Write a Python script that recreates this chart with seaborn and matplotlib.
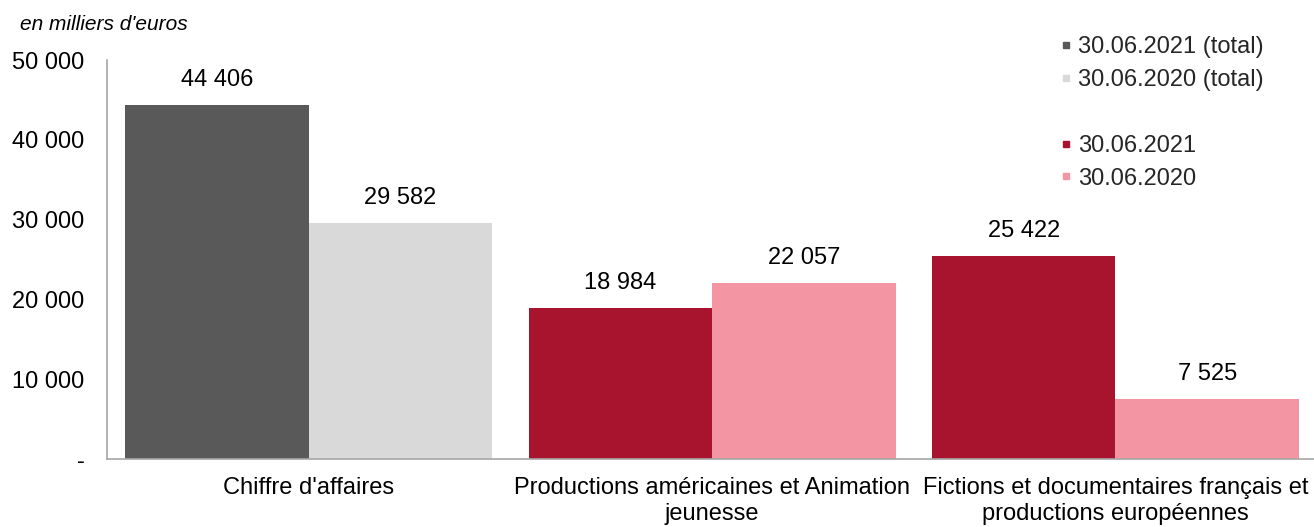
import pandas as pd
import matplotlib.pyplot as plt
import seaborn as sns
from matplotlib.lines import Line2D
from matplotlib.ticker import FuncFormatter

categories = ["Chiffre d'affaires",
              "Productions américaines et Animation\njeunesse",
              "Fictions et documentaires français et\nproductions européennes"]
values_2021 = [44406, 18984, 25422]
values_2020 = [29582, 22057, 7525]
series = ["30.06.2021", "30.06.2020"]

df = pd.DataFrame({
    "Catégorie": categories * 2,
    "Période": [series[0]] * 3 + [series[1]] * 3,
    "Valeur": values_2021 + values_2020,
})

dark_red = "#a8142d"
pink = "#f495a3"
dark_grey = "#595959"
light_grey = "#d9d9d9"

sns.set_style("white")
plt.rcParams['font.family'] = ['Liberation Sans', 'DejaVu Sans']
plt.rcParams['text.color'] = 'black'
plt.rcParams['xtick.color'] = 'black'
plt.rcParams['ytick.color'] = 'black'

fig = plt.figure(figsize=(13.14, 5.27), dpi=100)
ax = fig.add_axes([0.0814, 0.129, 0.921, 0.757])

sns.barplot(data=df, x="Catégorie", y="Valeur", hue="Période", order=categories,
            hue_order=series, palette=[dark_red, pink], width=0.91,
            saturation=1, errorbar=None, legend=False, linewidth=0, ax=ax)

# first group is the total -> greys
ax.containers[0][0].set_facecolor(dark_grey)
ax.containers[1][0].set_facecolor(light_grey)

def fmt(v):
    return f"{int(round(v)):,}".replace(",", " ")

for cont in ax.containers:
    ax.bar_label(cont, labels=[fmt(b.get_height()) for b in cont], padding=10, fontsize=17)

ax.set_xlim(-0.5, 2.5)
ax.set_ylim(0, 50000)
ax.set_yticks([0, 10000, 20000, 30000, 40000, 50000])
ax.yaxis.set_major_formatter(FuncFormatter(lambda v, p: "-" if v == 0 else fmt(v)))
ax.tick_params(axis='y', length=0, pad=16, labelsize=17)
ax.tick_params(axis='x', length=0, pad=13, labelsize=17)
for t in ax.get_xticklabels():
    t.set_linespacing(1.22)
ax.set_xlabel('')
ax.set_ylabel('')

for s in ['top', 'right']:
    ax.spines[s].set_visible(False)
for s in ['left', 'bottom']:
    ax.spines[s].set_color('#a6a6a6')
    ax.spines[s].set_linewidth(1.2)

fig.text(20 / 1314, 1 - 25 / 527, "en milliers d'euros", style='italic', fontsize=15, va='center')

handles = [
    Line2D([], [], marker='s', linestyle='none', color=dark_grey, markersize=4.5),
    Line2D([], [], marker='s', linestyle='none', color=light_grey, markersize=4.5),
    Line2D([], [], linestyle='none'),
    Line2D([], [], marker='s', linestyle='none', color=dark_red, markersize=4.5),
    Line2D([], [], marker='s', linestyle='none', color=pink, markersize=4.5),
]
labels = [series[0] + " (total)", series[1] + " (total)", "", series[0], series[1]]
fig.legend(handles, labels, loc='upper left', bbox_to_anchor=(1038 / 1314, 1 - 15 / 527),
           frameon=False, fontsize=17, handlelength=0.6, handletextpad=0.2,
           labelspacing=0.46, labelcolor='#262626')

plt.savefig('out.png', dpi=100)
